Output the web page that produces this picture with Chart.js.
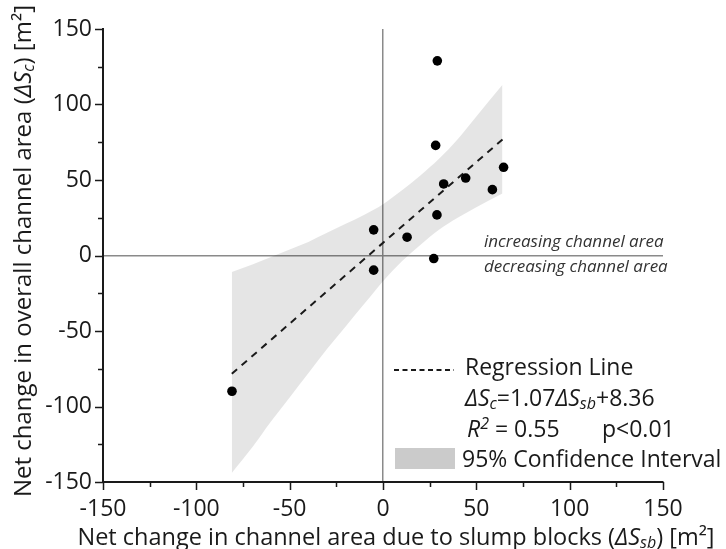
<!DOCTYPE html>
<html>
<head>
<meta charset="utf-8">
<script src="https://cdn.jsdelivr.net/npm/chart.js@4.4.1/dist/chart.umd.min.js"></script>
<style>
  html, body { margin: 0; padding: 0; background: #fff; }
  #wrap { width: 726px; height: 549px; position: relative; }
</style>
</head>
<body>
<div id="wrap"><canvas id="chart"></canvas></div>
<script>
// values
const slumpX   = [29.1, 28.2, 32.5, 44.3, 64.6, 58.6, 28.9, 12.9, -5.0, 27.2, -5.0, -80.9];
const channelY = [128.9, 72.9, 47.4, 51.3, 58.4, 43.6, 26.9, 12.1, 17.0, -2.0, -9.7, -89.9];

// regression line end points
const regX = [-81, 65];
const regY = [-78.3, 77.9];

// 95% confidence band edges
const bandX     = [-81, -70, -60, -50, -40, -30, -20, -10, 0, 10, 20, 30, 40, 50, 64];
const bandUpper = [-11, -6, -1, 4, 9, 15, 21, 27, 34, 43, 53, 64, 77, 92, 113];
const bandLower = [-144, -127, -110, -94, -78, -62, -47, -32, -17, -4, 7, 17, 25, 32, 41];

const axisTicks = [-150, -100, -50, 0, 50, 100, 150];

const FONT = '"Open Sans", sans-serif';
const INK = '#1a1a1a';

const zip = (xs, ys) => xs.map((x, i) => ({ x, y: ys[i] }));

// parts: [text, flags]  flags: i = italic, _ = subscript, ^ = superscript
function richFont(flags, size) {
  const s = /[_^]/.test(flags) ? Math.round(size * 0.68) : size;
  return (flags.includes('i') ? 'italic ' : '') + s + 'px ' + FONT;
}
function drawRich(ctx, parts, x, y, size, align) {
  let total = 0;
  const widths = parts.map(([t, f]) => {
    ctx.font = richFont(f || '', size);
    const w = ctx.measureText(t).width;
    total += w;
    return w;
  });
  let cx = align === 'center' ? x - total / 2 : align === 'right' ? x - total : x;
  ctx.textAlign = 'left';
  ctx.textBaseline = 'alphabetic';
  parts.forEach(([t, f], i) => {
    f = f || '';
    ctx.font = richFont(f, size);
    let dy = 0;
    if (f.includes('_')) dy = size * 0.14;
    if (f.includes('^')) dy = -size * 0.36;
    ctx.fillText(t, cx, y + dy);
    cx += widths[i];
  });
}

const tickMarks = {
  id: 'tickMarks',
  afterDraw(chart) {
    const { ctx, chartArea, scales: { x, y } } = chart;
    ctx.save();
    ctx.strokeStyle = INK;
    ctx.lineWidth = 1.5;
    ctx.beginPath();
    x.ticks.forEach(t => {
      const px = Math.round(x.getPixelForValue(t.value)) + 0.5;
      const len = t.value % 50 === 0 ? 8 : 5;
      ctx.moveTo(px, chartArea.bottom);
      ctx.lineTo(px, chartArea.bottom + len);
    });
    y.ticks.forEach(t => {
      const py = Math.round(y.getPixelForValue(t.value)) + 0.5;
      const len = t.value % 50 === 0 ? 8 : 5;
      ctx.moveTo(chartArea.left, py);
      ctx.lineTo(chartArea.left - len, py);
    });
    ctx.stroke();
    ctx.restore();
  }
};

const annotations = {
  id: 'annotations',
  afterDraw(chart) {
    const { ctx } = chart;
    ctx.save();
    ctx.fillStyle = INK;

    // axis titles
    drawRich(ctx, [['Net change in channel area due to slump blocks ('], ['ΔS', 'i'], ['sb', 'i_'], [') [m²]']], 396, 545, 23.5, 'center');
    ctx.save();
    ctx.translate(31, 251);
    ctx.rotate(-Math.PI / 2);
    drawRich(ctx, [['Net change in overall channel area ('], ['ΔS', 'i'], ['c', 'i_'], [') [m²]']], 0, 0, 24, 'center');
    ctx.restore();

    // quadrant notes
    ctx.fillStyle = '#333';
    drawRich(ctx, [['increasing channel area', 'i']], 484, 247, 17, 'left');
    drawRich(ctx, [['decreasing channel area', 'i']], 484, 272, 17, 'left');

    // legend block
    ctx.strokeStyle = INK;
    ctx.lineWidth = 2;
    ctx.setLineDash([5, 3.5]);
    ctx.beginPath();
    ctx.moveTo(394, 370);
    ctx.lineTo(454, 370);
    ctx.stroke();
    ctx.setLineDash([]);
    ctx.fillStyle = '#cbcbcb';
    ctx.fillRect(395, 448, 60, 21);

    ctx.fillStyle = INK;
    drawRich(ctx, [['Regression Line']], 465, 375, 23, 'left');
    drawRich(ctx, [['ΔS', 'i'], ['c', 'i_'], ['=1.07'], ['ΔS', 'i'], ['sb', 'i_'], ['+8.36']], 465, 406, 23, 'left');
    drawRich(ctx, [['R', 'i'], ['2', 'i^'], [' = 0.55']], 467, 437, 23, 'left');
    drawRich(ctx, [['p<0.01']], 602, 437, 23, 'left');
    drawRich(ctx, [['95% Confidence Interval']], 462, 467, 23, 'left');
    ctx.restore();
  }
};

const zeroGrid = c => (c.tick && c.tick.value === 0 ? '#8a8a8a' : 'rgba(0,0,0,0)');
const tickLabel = v => (axisTicks.includes(v) ? String(v) : '');

new Chart(document.getElementById('chart'), {
  type: 'scatter',
  data: {
    datasets: [
      {
        label: 'Observations',
        type: 'scatter',
        data: zip(slumpX, channelY),
        pointRadius: 4.8,
        pointBackgroundColor: '#000',
        pointBorderWidth: 0,
        order: 0,
      },
      {
        label: 'Regression Line',
        type: 'line',
        data: zip(regX, regY),
        borderColor: INK,
        borderWidth: 2,
        borderDash: [7, 6],
        pointRadius: 0,
        fill: false,
        order: 1,
      },
      {
        label: 'CI upper',
        type: 'line',
        data: zip(bandX, bandUpper),
        borderWidth: 0,
        borderColor: 'rgba(0,0,0,0)',
        backgroundColor: 'rgba(0,0,0,0.1)',
        pointRadius: 0,
        fill: '+1',
        cubicInterpolationMode: 'monotone',
        order: 2,
      },
      {
        label: 'CI lower',
        type: 'line',
        data: zip(bandX, bandLower),
        borderWidth: 0,
        borderColor: 'rgba(0,0,0,0)',
        pointRadius: 0,
        fill: false,
        cubicInterpolationMode: 'monotone',
        order: 3,
      },
    ],
  },
  plugins: [tickMarks, annotations],
  options: {
    responsive: true,
    maintainAspectRatio: false,
    animation: false,
    layout: { padding: { top: 29, right: 63, left: 0, bottom: 0 } },
    plugins: {
      legend: { display: false },
      tooltip: { enabled: false },
    },
    scales: {
      x: {
        type: 'linear',
        min: -150,
        max: 150,
        afterFit(scale) { scale.height = 67; },
        border: { display: true, color: INK, width: 2 },
        grid: { color: zeroGrid, lineWidth: 1.5, drawTicks: false },
        ticks: {
          stepSize: 25,
          autoSkip: false,
          maxRotation: 0,
          padding: 14,
          color: INK,
          font: { family: FONT, size: 23 },
          callback: tickLabel,
        },
      },
      y: {
        type: 'linear',
        min: -150,
        max: 150,
        afterFit(scale) { scale.width = 103; },
        border: { display: true, color: INK, width: 2 },
        grid: { color: zeroGrid, lineWidth: 1.5, drawTicks: false },
        ticks: {
          stepSize: 25,
          autoSkip: false,
          padding: 11,
          color: INK,
          font: { family: FONT, size: 23 },
          callback: tickLabel,
        },
      },
    },
  },
});
</script>
</body>
</html>
